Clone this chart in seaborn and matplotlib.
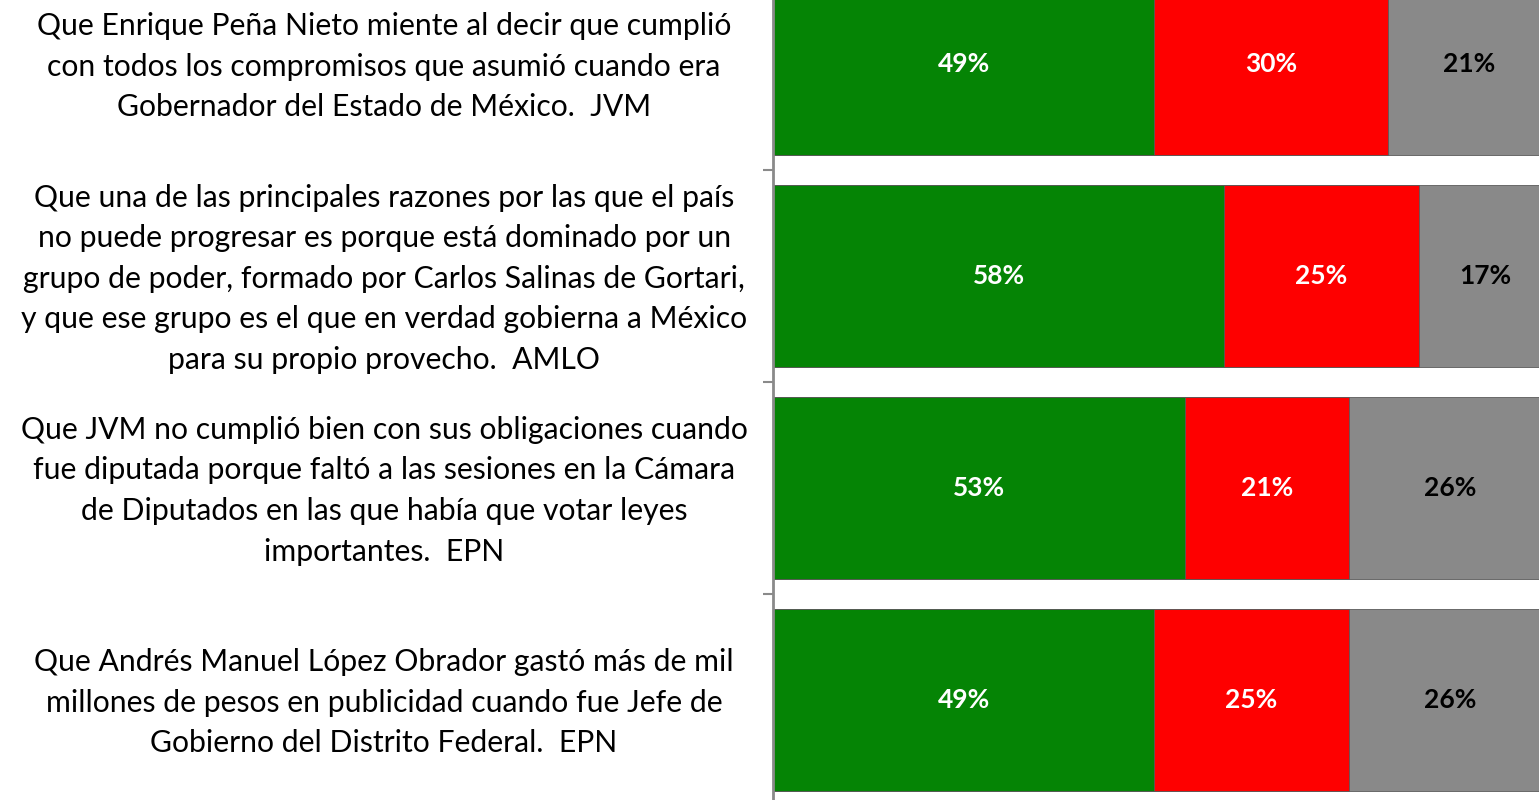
import matplotlib
matplotlib.use("Agg")
import matplotlib.pyplot as plt
import matplotlib.transforms as mtransforms
import seaborn as sns
import pandas as pd
import numpy as np

statements = [
    "Que Enrique Peña Nieto miente al decir que cumplió\ncon todos los compromisos que asumió cuando era\nGobernador del Estado de México.  JVM",
    "Que una de las principales razones por las que el país\nno puede progresar es porque está dominado por un\ngrupo de poder, formado por Carlos Salinas de Gortari,\ny que ese grupo es el que en verdad gobierna a México\npara su propio provecho.  AMLO",
    "Que JVM no cumplió bien con sus obligaciones cuando\nfue diputada porque faltó a las sesiones en la Cámara\nde Diputados en las que había que votar leyes\nimportantes.  EPN",
    "Que Andrés Manuel López Obrador gastó más de mil\nmillones de pesos en publicidad cuando fue Jefe de\nGobierno del Distrito Federal.  EPN",
]
cree = [49, 58, 53, 49]
no_cree = [30, 25, 21, 25]
ns_nc = [21, 17, 26, 26]

series = [("Sí", cree, "#058405", "white"),
          ("No", no_cree, "#fe0000", "white"),
          ("NS/NC", ns_nc, "#898989", "black")]

sns.set_theme(style="white")
plt.rcParams["font.family"] = ["Lato", "DejaVu Sans"]

fig = plt.figure(figsize=(15.39, 8.0), dpi=100)
W, H = 1539, 800
ax = fig.add_axes([773 / W, -6 / H, 778 / W, 848 / H])

df = pd.DataFrame({"statement": statements, "Sí": cree, "No": no_cree, "NS/NC": ns_nc})
cum = df[["Sí", "No", "NS/NC"]].cumsum(axis=1)

# stacked bars: draw the cumulative totals from the longest to the shortest
for (name, vals, color, _) in reversed(series):
    sns.barplot(x=cum[name], y=df["statement"], orient="h", color=color,
                width=0.86, edgecolor="#5a5a5a", linewidth=0.6,
                saturation=1, ax=ax)

# value labels centred in each segment
for (name, vals, color, tcolor) in series:
    ends = cum[name].values
    for i, v in enumerate(vals):
        ax.text(ends[i] - v / 2, i, f"{v}%", ha="center", va="center",
                color=tcolor, fontsize=19, fontweight="bold")

ax.set_xlim(0, 100)
ax.set_ylim(3.5, -0.5)
ax.set_xlabel("")
ax.set_ylabel("")
ax.set_xticks([])

ax.set_yticks(range(len(statements)))
ax.set_yticklabels(statements, fontsize=21.7, color="black", ha="center",
                   multialignment="center", linespacing=1.55)
ax.tick_params(axis="y", which="major", length=0, pad=280)
ax.set_yticks(np.arange(0.5, len(statements) - 0.5, 1), minor=True)
ax.tick_params(axis="y", which="minor", length=7, width=1.5, color="#8a8a8a", left=True)

for s in ["top", "right", "bottom"]:
    ax.spines[s].set_visible(False)
ax.spines["left"].set_color("#8a8a8a")
ax.spines["left"].set_linewidth(2)

# nudge the statement blocks up slightly so they sit optically centred on the bars
shift = mtransforms.ScaledTranslation(0, 6 / 100, fig.dpi_scale_trans)
for lbl in ax.get_yticklabels():
    lbl.set_transform(lbl.get_transform() + shift)

fig.savefig("out.png", dpi=100)
